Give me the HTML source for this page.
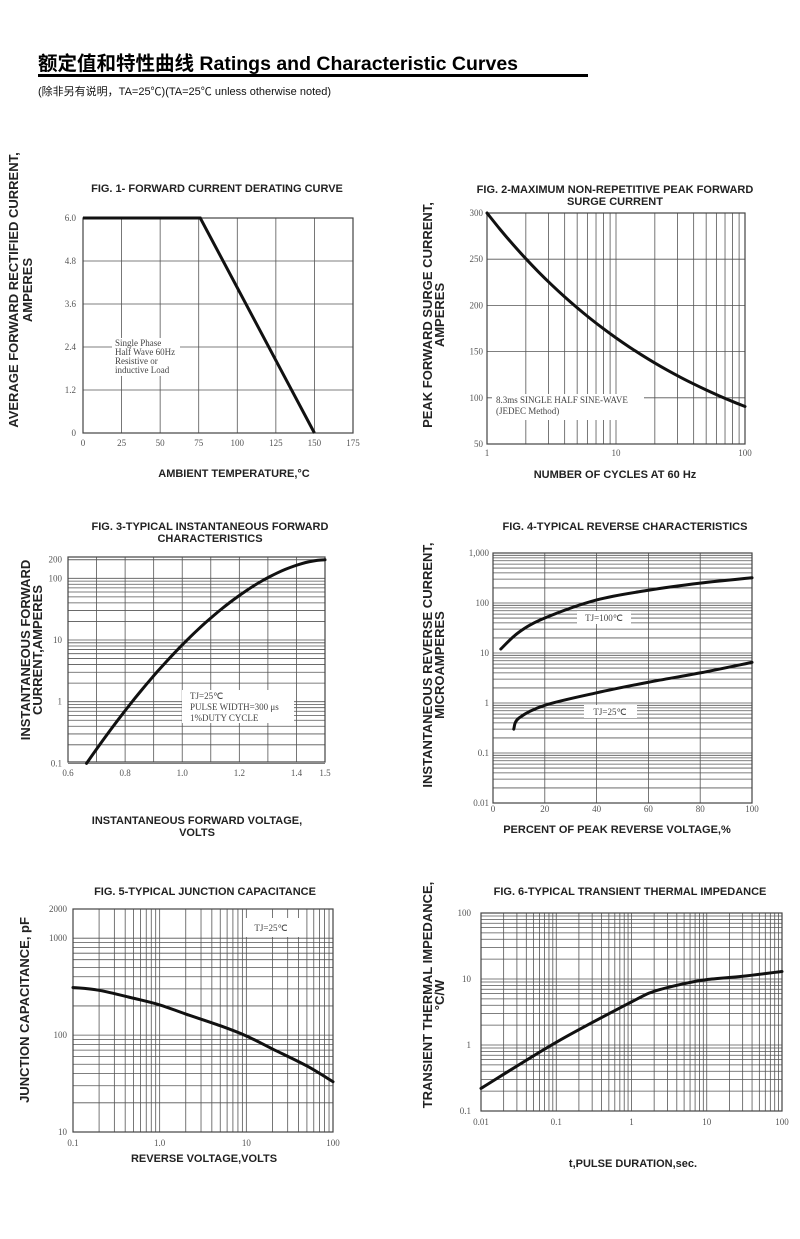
<!DOCTYPE html>
<html><head><meta charset="utf-8">
<style>
body{margin:0;background:#fff;}
svg{display:block}
.t{font-family:"Liberation Sans",Arial,sans-serif;font-weight:bold;fill:#222}
.k{font-family:"Liberation Serif",serif;font-size:9px;fill:#555}
.n{font-family:"Liberation Serif",serif;font-size:9px;fill:#444}
</style></head><body>
<svg id="s" width="800" height="1239" viewBox="0 0 800 1239" xmlns="http://www.w3.org/2000/svg">
<text x="38" y="70" class="t" style="font-family:'Liberation Sans','Noto Sans CJK SC',sans-serif;font-size:19.5px;fill:#000">额定值和特性曲线 Ratings and Characteristic Curves</text>
<rect x="38" y="74" width="550" height="3" fill="#000"/>
<text x="38" y="95" style="font-family:'Liberation Sans','Noto Sans CJK SC',sans-serif;font-size:11px;fill:#111">(除非另有说明，TA=25℃)(TA=25℃  unless otherwise noted)</text>
<g id="g"></g>
</svg>
<script>
var g=document.getElementById('g'),h='';
function L(x1,y1,x2,y2,w,c){h+='<line x1="'+x1+'" y1="'+y1+'" x2="'+x2+'" y2="'+y2+'" stroke="'+(c||'#555')+'" stroke-width="'+(w||0.8)+'"/>';}
function T(x,y,s,cls,anc,fs,rot){h+='<text x="'+x+'" y="'+y+'" class="'+cls+'" text-anchor="'+(anc||'middle')+'"'+(fs?' font-size="'+fs+'"':'')+(rot?' transform="rotate(-90 '+x+' '+y+')"':'')+'>'+s+'</text>';}
function R(x,y,w,hh){h+='<rect x="'+x+'" y="'+y+'" width="'+w+'" height="'+hh+'" fill="#fff"/>';}
function lg(v){return Math.log(v)/Math.LN10;}
function mk(x0,x1,a,b,log){return function(v){var t=log?(lg(v)-lg(a))/(lg(b)-lg(a)):(v-a)/(b-a);return x0+t*(x1-x0);};}
function curve(pts){var p=pts,d='M'+p[0][0]+','+p[0][1];for(var i=0;i<p.length-1;i++){var p0=p[i-1]||p[i],p1=p[i],p2=p[i+1],p3=p[i+2]||p2;d+=' C'+(p1[0]+(p2[0]-p0[0])/6)+','+(p1[1]+(p2[1]-p0[1])/6)+' '+(p2[0]-(p3[0]-p1[0])/6)+','+(p2[1]-(p3[1]-p1[1])/6)+' '+p2[0]+','+p2[1];}
h+='<path d="'+d+'" fill="none" stroke="#111" stroke-width="3" stroke-linecap="round"/>';}
function logs(a,b){var r=[];for(var d=a;d<b*0.999;d*=10)for(var k=1;k<10;k++){var v=d*k;if(v<=b*1.0001)r.push(v);}r.push(b);return r;}
function frame(x0,y0,x1,y1){h+='<rect x="'+x0+'" y="'+y0+'" width="'+(x1-x0)+'" height="'+(y1-y0)+'" fill="none" stroke="#444" stroke-width="1.2"/>';}

// FIG1
(function(){var X=mk(83,353,0,175),Y=mk(433,218,0,6);
for(var v=0;v<=175;v+=25){L(X(v),218,X(v),433);T(X(v),446,v,'k');}
for(var i=0;i<=5;i++){var v=i*1.2;L(83,Y(v),353,Y(v));T(76,Y(v)+3,i==0?'0':v.toFixed(1),'k','end');}
frame(83,218,353,433);
R(112,338,68,38);
T(115,346,'Single Phase','n','start',7.5);T(115,355,'Half Wave 60Hz','n','start',7.5);T(115,364,'Resistive or','n','start',7.5);T(115,373,'inductive Load','n','start',7.5);
h+='<polyline points="83,218 '+X(76)+',218 '+X(150)+',433" fill="none" stroke="#111" stroke-width="3"/>';
T(217,192,'FIG. 1- FORWARD CURRENT DERATING CURVE','t','middle',11);
T(234,477,'AMBIENT TEMPERATURE,°C','t','middle',11);
T(18,290,'AVERAGE FORWARD RECTIFIED CURRENT,','t','middle',13,1);
T(32,290,'AMPERES','t','middle',13,1);})();

// FIG2
(function(){var X=mk(487,745,1,100,1),Y=mk(444,213,50,300);
logs(1,100).forEach(function(v){L(X(v),213,X(v),444);});
[50,100,150,200,250,300].forEach(function(v){L(487,Y(v),745,Y(v));T(483,Y(v)+3,v,'k','end');});
[[1,'1'],[10,'10'],[100,'100']].forEach(function(a){T(X(a[0]),456,a[1],'k');});
frame(487,213,745,444);
R(492,394,152,26);
T(496,403,'8.3ms SINGLE HALF SINE-WAVE','n','start',9);T(496,414,'(JEDEC Method)','n','start',9);
var p=[];for(var i=0;i<=20;i++){var n=Math.pow(10,i/10);p.push([X(n),Y(300*Math.pow(n,-0.26))]);}curve(p);
T(615,193,'FIG. 2-MAXIMUM NON-REPETITIVE PEAK FORWARD','t','middle',11);
T(615,205,'SURGE CURRENT','t','middle',11);
T(615,478,'NUMBER OF CYCLES AT 60 Hz','t','middle',11);
T(432,315,'PEAK  FORWARD SURGE CURRENT,','t','middle',13,1);
T(444,315,'AMPERES','t','middle',13,1);})();

// FIG3
(function(){var X=mk(68,325,0.6,1.5),Y=function(v){return 640-61.7*(lg(v)-1);};
for(var i=0;i<=9;i++){L(X(0.6+i*0.1),557,X(0.6+i*0.1),762);}
logs(0.1,200).forEach(function(v){L(68,Y(v),325,Y(v));});
[[0.1,'0.1'],[1,'1'],[10,'10'],[100,'100'],[200,'200']].forEach(function(a){T(62,Y(a[0])+3,a[1],'k','end');});
['0.6','0.8','1.0','1.2','1.4','1.5'].forEach(function(s){T(X(+s),776,s,'k');});
frame(68,557,325,762);
R(182,690,112,33);
T(190,699,'TJ=25℃','n','start',9);T(190,710,'PULSE WIDTH=300 μs','n','start',9);T(190,721,'1%DUTY CYCLE','n','start',9);
var p=[];for(var i=0;i<=30;i++){var v=0.665+i*(1.5-0.665)/30;var t=(v-0.665)/(1.5-0.665);var l=-1+3.301*(1-Math.pow(1-t,1.7));p.push([X(v),Y(Math.pow(10,l))]);}curve(p);
T(210,530,'FIG. 3-TYPICAL INSTANTANEOUS FORWARD','t','middle',11);
T(210,542,'CHARACTERISTICS','t','middle',11);
T(197,824,'INSTANTANEOUS FORWARD VOLTAGE,','t','middle',11);
T(197,836,'VOLTS','t','middle',11);
T(30,650,'INSTANTANEOUS FORWARD','t','middle',13,1);
T(42,650,'CURRENT,AMPERES','t','middle',13,1);})();

// FIG4
(function(){var X=mk(493,752,0,100),Y=mk(803,553,0.01,1000,1);
for(var v=0;v<=100;v+=20){L(X(v),553,X(v),803);T(X(v),812,v,'k');}
logs(0.01,1000).forEach(function(v){L(493,Y(v),752,Y(v));});
[[0.01,'0.01'],[0.1,'0.1'],[1,'1'],[10,'10'],[100,'100'],[1000,'1,000']].forEach(function(a){T(489,Y(a[0])+3,a[1],'k','end');});
frame(493,553,752,803);
R(577,611,54,13);R(584,705,53,13);
T(604,621,'TJ=100℃','n','middle',9);T(610,715,'TJ=25℃','n','middle',9);
curve([[3,12],[10,26],[20,50],[40,115],[60,180],[80,250],[100,320]].map(function(a){return [X(a[0]),Y(a[1])];}));
curve([[8,0.3],[10,0.5],[20,0.9],[40,1.6],[60,2.6],[80,4],[100,6.5]].map(function(a){return [X(a[0]),Y(a[1])];}));
T(625,530,'FIG. 4-TYPICAL REVERSE CHARACTERISTICS','t','middle',11);
T(617,833,'PERCENT OF PEAK REVERSE VOLTAGE,%','t','middle',11);
T(432,665,'INSTANTANEOUS REVERSE CURRENT,','t','middle',13,1);
T(444,665,'MICROAMPERES','t','middle',13,1);})();

// FIG5
(function(){var X=mk(73,333,0.1,100,1),Y=function(v){return 1132-96.9*(lg(v)-1);};
logs(0.1,100).forEach(function(v){L(X(v),909,X(v),1132);});
logs(10,2000).forEach(function(v){L(73,Y(v),333,Y(v));});
[[10,'10'],[100,'100'],[1000,'1000'],[2000,'2000']].forEach(function(a){T(67,Y(a[0])+3,a[1],'k','end');});
[[0.1,'0.1'],[1,'1.0'],[10,'10'],[100,'100']].forEach(function(a){T(X(a[0]),1146,a[1],'k');});
frame(73,909,333,1132);
R(245,918,56,19);T(271,931,'TJ=25℃','n','middle',9);
curve([[0.1,310],[0.2,290],[0.5,240],[1,205],[2,165],[5,125],[10,98],[20,72],[50,48],[100,33]].map(function(a){return [X(a[0]),Y(a[1])];}));
T(205,895,'FIG. 5-TYPICAL JUNCTION CAPACITANCE','t','middle',11);
T(204,1162,'REVERSE VOLTAGE,VOLTS','t','middle',11);
T(29,1010,'JUNCTION CAPACITANCE, pF','t','middle',13,1);})();

// FIG6
(function(){var X=mk(481,782,0.01,100,1),Y=mk(1111,913,0.1,100,1);
logs(0.01,100).forEach(function(v){L(X(v),913,X(v),1111);});
logs(0.1,100).forEach(function(v){L(481,Y(v),782,Y(v));});
[[0.1,'0.1'],[1,'1'],[10,'10'],[100,'100']].forEach(function(a){T(471,Y(a[0])+3,a[1],'k','end');});
[[0.01,'0.01'],[0.1,'0.1'],[1,'1'],[10,'10'],[100,'100']].forEach(function(a){T(X(a[0]),1125,a[1],'k');});
frame(481,913,782,1111);
curve([[0.01,0.22],[0.1,1.1],[1,4.5],[2,6.5],[5,8.5],[10,9.8],[30,11],[100,13]].map(function(a){return [X(a[0]),Y(a[1])];}));
T(630,895,'FIG. 6-TYPICAL TRANSIENT THERMAL IMPEDANCE','t','middle',11);
T(633,1167,'t,PULSE DURATION,sec.','t','middle',11);
T(432,995,'TRANSIENT THERMAL IMPEDANCE,','t','middle',13,1);
T(444,995,'°C/W','t','middle',13,1);})();

g.innerHTML=h;
</script>
</body></html>
